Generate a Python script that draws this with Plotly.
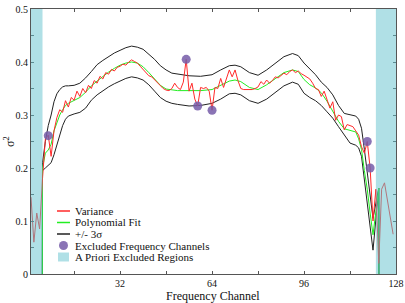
import plotly.graph_objects as go

# ---- data ----
var_ch = list(range(1, 128))
var_val = [0.145, 0.06, 0.115, 0.085, 0.18, 0.255, 0.262, 0.222, 0.27, 0.295,
           0.31, 0.305, 0.327, 0.315, 0.333, 0.328, 0.345, 0.335, 0.35, 0.342,
           0.356, 0.35, 0.365, 0.36, 0.373, 0.368, 0.38, 0.377, 0.386, 0.383,
           0.39, 0.392, 0.396, 0.394, 0.4, 0.404, 0.401, 0.398, 0.392, 0.386,
           0.382, 0.374, 0.372, 0.366, 0.362, 0.355, 0.35, 0.347, 0.346, 0.35,
           0.36, 0.352, 0.348, 0.362, 0.405, 0.345, 0.36, 0.33, 0.317, 0.352,
           0.35, 0.352, 0.345, 0.309, 0.352, 0.35, 0.369, 0.352, 0.37, 0.385,
           0.372, 0.385, 0.365, 0.35, 0.348, 0.348, 0.348, 0.348, 0.35, 0.353,
           0.363, 0.358, 0.366, 0.36, 0.365, 0.372, 0.37, 0.375, 0.379, 0.376,
           0.382, 0.385, 0.38, 0.383, 0.378, 0.375, 0.372, 0.368, 0.36, 0.35,
           0.348, 0.335, 0.345, 0.33, 0.313, 0.325, 0.29, 0.3, 0.297, 0.272,
           0.282, 0.28, 0.278, 0.27, 0.262, 0.24, 0.228, 0.25, 0.20, 0.10,
           0.16, 0.02, 0.16, 0.172, 0.14, 0.11, 0.075]

fit_ch = [4, 5, 6, 7, 8, 9, 10, 11, 12, 13, 14, 16, 18, 20, 22, 24, 26, 28, 30, 32,
          34, 36, 38, 40, 42, 44, 46, 48, 50, 52, 56, 60, 64, 67, 70, 72, 74, 77,
          80, 83, 86, 89, 92, 94, 96, 98, 100, 102, 104, 106, 108, 110, 112, 114,
          115, 116, 117, 118, 119, 120, 122, 123]
fit_val = [-3, 0.20, 0.228, 0.234, 0.245, 0.27, 0.285, 0.30, 0.31, 0.318, 0.322,
           0.327, 0.333, 0.343, 0.355, 0.364, 0.373, 0.381, 0.388, 0.394, 0.398,
           0.400, 0.398, 0.391, 0.380, 0.367, 0.356, 0.349, 0.347, 0.346, 0.346,
           0.346, 0.348, 0.356, 0.364, 0.366, 0.363, 0.352, 0.348, 0.357, 0.369,
           0.380, 0.385, 0.382, 0.367, 0.357, 0.351, 0.342, 0.326, 0.308, 0.288,
           0.274, 0.271, 0.268, 0.255, 0.235, 0.195, 0.16, 0.115, 0.074, 0.162, -3]
upper_val = [-3, 0.21, 0.25, 0.28, 0.30, 0.325, 0.34, 0.348, 0.353, 0.355, 0.355,
             0.356, 0.36, 0.37, 0.382, 0.395, 0.403, 0.41, 0.417, 0.422, 0.427,
             0.430, 0.428, 0.424, 0.415, 0.405, 0.393, 0.385, 0.379, 0.377, 0.374,
             0.373, 0.376, 0.385, 0.393, 0.394, 0.391, 0.38, 0.375, 0.385, 0.398,
             0.41, 0.416, 0.412, 0.398, 0.387, 0.376, 0.362, 0.352, 0.338, 0.318,
             0.303, 0.300, 0.298, 0.292, 0.275, 0.235, 0.19, 0.145, 0.105, 0.162, -3]
lower_val = [-3, 0.195, 0.2, 0.205, 0.21, 0.225, 0.245, 0.265, 0.28, 0.292, 0.298,
             0.302, 0.305, 0.313, 0.328, 0.338, 0.346, 0.353, 0.359, 0.364, 0.369,
             0.372, 0.370, 0.366, 0.357, 0.345, 0.333, 0.326, 0.322, 0.320, 0.317,
             0.318, 0.322, 0.33, 0.340, 0.341, 0.338, 0.327, 0.322, 0.33, 0.343,
             0.355, 0.362, 0.358, 0.341, 0.333, 0.327, 0.318, 0.306, 0.294, 0.278,
             0.262, 0.247, 0.243, 0.238, 0.222, 0.18, 0.135, 0.09, 0.045, 0.162, -3]

excl_ch = [7, 55, 59, 64, 118, 119]
excl_val = [0.261, 0.405, 0.317, 0.309, 0.25, 0.20]

regions = [(1, 5), (121, 128)]

x_tickvals = [16, 32, 48, 64, 80, 96, 112, 128]
x_ticktext = ["", "32", "", "64", "", "96", "", "128"]
y_tickvals = [0, 0.05, 0.1, 0.15, 0.2, 0.25, 0.3, 0.35, 0.4, 0.45, 0.5]
y_ticktext = ["0", "", "0.1", "", "0.2", "", "0.3", "", "0.4", "", "0.5"]

legend_labels = ["Variance", "Polynomial Fit", "+/- 3σ",
                 "Excluded Frequency Channels", "A Priori Excluded Regions"]

RED = "#ff2a2a"
GREEN = "#22ee22"
BLACK = "#222222"
PURPLE = "rgba(118,92,168,0.85)"
SHADE_LEGEND = "#b0e0e6"
SERIF = "Liberation Serif"
TXT = "#111111"

W, H = 405, 303
ML, MR, MT, MB = 31, 9, 9, 29
PW, PH = W - ML - MR, H - MT - MB


def px2paper(px, py):
    return (px - ML) / PW, (H - MB - py) / PH


fig = go.Figure()
fig.add_trace(go.Scatter(x=fit_ch, y=upper_val, mode="lines",
                         line=dict(color=BLACK, width=1), showlegend=False))
fig.add_trace(go.Scatter(x=fit_ch, y=lower_val, mode="lines",
                         line=dict(color=BLACK, width=1), showlegend=False))
fig.add_trace(go.Scatter(x=fit_ch, y=fit_val, mode="lines",
                         line=dict(color=GREEN, width=1), showlegend=False))
fig.add_trace(go.Scatter(x=var_ch, y=var_val, mode="lines",
                         line=dict(color=RED, width=1), showlegend=False))
fig.add_trace(go.Scatter(x=excl_ch, y=excl_val, mode="markers",
                         marker=dict(color=PURPLE, size=9, line=dict(width=0)),
                         showlegend=False))

for x0, x1 in regions:
    fig.add_shape(type="rect", xref="x", yref="paper", x0=x0, x1=x1, y0=0, y1=1,
                  fillcolor="rgb(97,193,205)", opacity=0.5, line=dict(width=0),
                  layer="above")

# ---- hand-built compact legend ----
row_y = [211, 222.5, 234, 245.5, 257]
sym_x0, sym_x1, text_x = 57, 70, 73
line_colors = [RED, GREEN, BLACK]
for i, label in enumerate(legend_labels):
    xp0, yp = px2paper(sym_x0, row_y[i])
    xp1, _ = px2paper(sym_x1, row_y[i])
    xt, _ = px2paper(text_x, row_y[i])
    if i < 3:
        fig.add_shape(type="line", xref="paper", yref="paper", x0=xp0, x1=xp1,
                      y0=yp, y1=yp, line=dict(color=line_colors[i], width=1.5))
    elif i == 3:
        cx, cy = (sym_x0 + sym_x1) / 2, row_y[i]
        a0, b0 = px2paper(cx - 4.5, cy - 4.5)
        a1, b1 = px2paper(cx + 4.5, cy + 4.5)
        fig.add_shape(type="circle", xref="paper", yref="paper", x0=a0, x1=a1,
                      y0=b1, y1=b0, fillcolor=PURPLE, line=dict(width=0))
    else:
        a0, b0 = px2paper(sym_x0 + 1, row_y[i] - 4.5)
        a1, b1 = px2paper(sym_x1 - 1, row_y[i] + 4.5)
        fig.add_shape(type="rect", xref="paper", yref="paper", x0=a0, x1=a1,
                      y0=b1, y1=b0, fillcolor=SHADE_LEGEND, line=dict(width=0))
    fig.add_annotation(xref="paper", yref="paper", x=xt, y=yp, text=label,
                       showarrow=False, xanchor="left", yanchor="middle",
                       font=dict(family=SERIF, size=11, color=TXT))

# axis titles
tx, ty = px2paper(213, 296)
fig.add_annotation(xref="paper", yref="paper", x=tx, y=ty, text="Frequency Channel",
                   showarrow=False, xanchor="center", yanchor="middle",
                   font=dict(family=SERIF, size=12, color=TXT))
tx, ty = px2paper(9, 142)
fig.add_annotation(xref="paper", yref="paper", x=tx, y=ty, text="σ<sup>2</sup>",
                   showarrow=False, xanchor="center", yanchor="middle", textangle=-90,
                   font=dict(family=SERIF, size=12, color=TXT))

axis_common = dict(showline=True, linecolor="#555555", linewidth=1, mirror="allticks",
                   ticks="inside", ticklen=3, tickcolor="#555555", showgrid=False,
                   zeroline=False, automargin=False,
                   tickfont=dict(family=SERIF, size=10, color=TXT))

fig.update_xaxes(range=[1, 128], tickvals=x_tickvals, ticktext=x_ticktext, **axis_common)
fig.update_yaxes(range=[0, 0.5], tickvals=y_tickvals, ticktext=y_ticktext, **axis_common)

fig.update_layout(
    width=W, height=H,
    margin=dict(l=ML, r=MR, t=MT, b=MB, autoexpand=False),
    paper_bgcolor="white", plot_bgcolor="white",
    showlegend=False,
    font=dict(family=SERIF),
)

fig.write_html("out.html", config={"displayModeBar": False},
               post_script="document.body.style.margin='0';document.body.style.overflow='hidden';")
